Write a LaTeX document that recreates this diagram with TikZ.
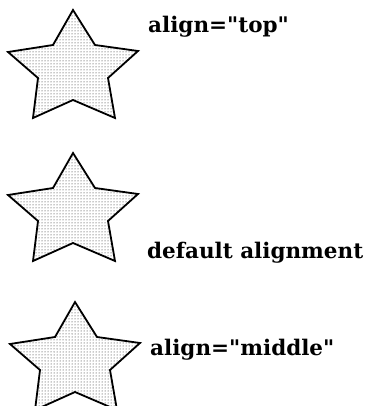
\documentclass[tikz,border=0pt]{standalone}
\usepackage{fontspec}
\setmainfont{DejaVu Serif}[Ligatures=TeXOff]
\usepackage{tikz}
\usetikzlibrary{patterns}
\newcommand{\starpts}{(0,0) -- (22,35) -- (65,41) -- (35,68) -- (42,108) -- (0,90) -- (-40,108) -- (-35,68) -- (-65,42) -- (-20,35) -- cycle}

\begin{document}
\begin{tikzpicture}[x=1pt,y=-1pt,
    starshape/.style={draw=black,line width=1.8pt,line join=miter,pattern=dots,pattern color=black!90},
    lbl/.style={anchor=base west,inner sep=0pt,font=\fontsize{21.5}{26}\selectfont\bfseries}
]
\useasboundingbox (0,0) rectangle (364,406);

\draw[starshape,shift={(73,10)}] \starpts;
\draw[starshape,shift={(73,153)}] \starpts;
\draw[starshape,shift={(75,302)}] \starpts;

\node[lbl] (top) at (148,33) {align="top"};
\node[lbl] (deflt) at (147,258) {default alignment};
\node[lbl] (mid) at (150,355) {align="middle"};
\end{tikzpicture}
\end{document}
